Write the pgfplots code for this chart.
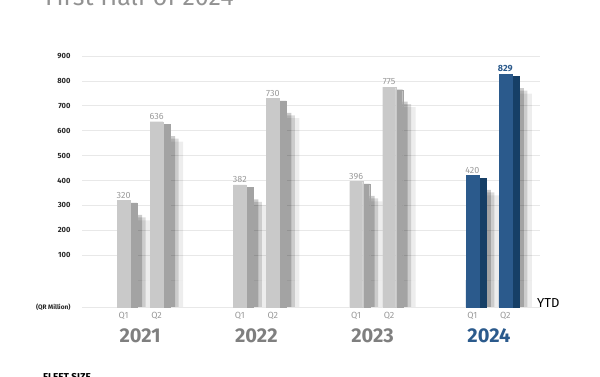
\documentclass[border=0pt]{standalone}
\usepackage{fontspec}
\setmainfont{Fira Sans}
\usepackage{pgfplots}
\pgfplotsset{compat=1.18}
\definecolor{fgray}{HTML}{C9C9C9}
\definecolor{sgray}{HTML}{A3A3A3}
\definecolor{fblue}{HTML}{2B5A8C}
\definecolor{sblue}{HTML}{163F66}
\definecolor{lgray}{HTML}{9A9A9A}
\definecolor{ygray}{HTML}{7F7F7F}
\definecolor{gridc}{HTML}{E8E8E8}
\begin{document}
\begin{tikzpicture}
\clip (0,0) rectangle (600pt,377pt);
\path[use as bounding box] (0,0) rectangle (600pt,377pt);
\node[anchor=base west, font=\fontsize{25}{25}\selectfont, text=ygray!85, inner sep=0pt] at (45pt,371pt) {First Half of 2024};
\node[anchor=north west, font=\bfseries\fontsize{10}{10}\selectfont, inner sep=0pt] at (43pt,4pt) {FLEET SIZE};
\node[anchor=west, font=\fontsize{13}{13}\selectfont, inner sep=0pt] at (537pt,74pt) {YTD};
\begin{axis}[
 at={(82pt,70pt)}, anchor=south west, scale only axis, width=458pt, height=251pt,
 xmin=-0.5, xmax=3.44, ymin=-108, ymax=900,
 clip=false,
 /pgf/number format/assume math mode=true,
 axis line style={draw=none},
 major tick length=0pt,
 ytick={100,200,...,900},
 ymajorgrids, grid style={gridc, line width=0.6pt},
 extra y ticks={-108}, extra y tick labels={(QR Million)},
 extra y tick style={yticklabel style={font=\bfseries\fontsize{6.5}{7}\selectfont}},
 yticklabel style={font=\bfseries\fontsize{7.5}{8}\selectfont, text=black!85, xshift=-8pt},
 xtick={-0.142,0.142,0.858,1.142,1.858,2.142,2.858,3.142},
 xticklabels={Q1,Q2,Q1,Q2,Q1,Q2,Q1,Q2},
 xticklabel style={font=\fontsize{9}{9}\selectfont, text=lgray, yshift=-2pt},
 extra x ticks={0,1,2,3},
 extra x tick labels={2021,2022,2023,\textcolor{fblue}{2024}},
 extra x tick style={xticklabel style={font=\bfseries\fontsize{20}{20}\selectfont, text=ygray, yshift=-16pt}},
]
% shadows (soft, layered)
\addplot[ybar, bar width=17pt, bar shift=18pt, fill=black, opacity=0.07, draw=none] coordinates {(-0.142,240) (0.142,556) (0.858,302) (1.142,650) (1.858,316) (2.142,695) (2.858,340) (3.142,749)};
\addplot[ybar, bar width=17pt, bar shift=18pt, fill=black, opacity=0.07, draw=none] coordinates {(-0.142,-108) (0.142,-108) (0.858,-108) (1.142,-108) (1.858,-108) (2.142,-108) (2.858,-108) (3.142,-108)};
\addplot[ybar, bar width=12pt, bar shift=16pt, fill=black, opacity=0.14, draw=none] coordinates {(-0.142,252) (0.142,568) (0.858,314) (1.142,662) (1.858,328) (2.142,707) (2.858,352) (3.142,761)};
\addplot[ybar, bar width=12pt, bar shift=16pt, fill=black, opacity=0.14, draw=none] coordinates {(-0.142,-108) (0.142,-108) (0.858,-108) (1.142,-108) (1.858,-108) (2.142,-108) (2.858,-108) (3.142,-108)};
\addplot[ybar, bar width=7pt, bar shift=15pt, fill=black, opacity=0.2, draw=none] coordinates {(-0.142,262) (0.142,578) (0.858,324) (1.142,672) (1.858,338) (2.142,717) (2.858,362) (3.142,771)};
\addplot[ybar, bar width=7pt, bar shift=15pt, fill=black, opacity=0.2, draw=none] coordinates {(-0.142,-108) (0.142,-108) (0.858,-108) (1.142,-108) (1.858,-108) (2.142,-108) (2.858,-108) (3.142,-108)};
% side faces
\addplot[ybar, bar width=7pt, bar shift=10pt, fill=sgray, draw=sgray, line width=0.2pt] coordinates {(-0.142,310) (0.142,626) (0.858,372) (1.142,720) (1.858,386) (2.142,765)};
\addplot[ybar, bar width=7pt, bar shift=10pt, fill=sgray, draw=sgray, line width=0.2pt] coordinates {(-0.142,-108) (0.142,-108) (0.858,-108) (1.142,-108) (1.858,-108) (2.142,-108)};
\addplot[ybar, bar width=7pt, bar shift=10pt, fill=sblue, draw=sblue, line width=0.2pt] coordinates {(2.858,410) (3.142,819)};
\addplot[ybar, bar width=7pt, bar shift=10pt, fill=sblue, draw=sblue, line width=0.2pt] coordinates {(2.858,-108) (3.142,-108)};
% front faces
\addplot[ybar, bar width=13pt, bar shift=0pt, fill=fgray, draw=fgray, line width=0.2pt,
  nodes near coords, nodes near coords style={font=\fontsize{9}{9}\selectfont, text=lgray, inner sep=2pt}]
  coordinates {(-0.142,320) (0.142,636) (0.858,382) (1.142,730) (1.858,396) (2.142,775)};
\addplot[ybar, bar width=13pt, bar shift=0pt, fill=fgray, draw=fgray, line width=0.2pt] coordinates {(-0.142,-108) (0.142,-108) (0.858,-108) (1.142,-108) (1.858,-108) (2.142,-108)};
\addplot[ybar, bar width=13pt, bar shift=0pt, fill=fblue, draw=fblue, line width=0.2pt,
  nodes near coords, nodes near coords style={font=\fontsize{9}{9}\selectfont, text=lgray, inner sep=2pt}]
  coordinates {(2.858,420)};
\addplot[ybar, bar width=13pt, bar shift=0pt, fill=fblue, draw=fblue, line width=0.2pt,
  nodes near coords, nodes near coords style={font=\bfseries\fontsize{9}{9}\selectfont, text=fblue, inner sep=2pt}]
  coordinates {(3.142,829)};
\addplot[ybar, bar width=13pt, bar shift=0pt, fill=fblue, draw=fblue, line width=0.2pt] coordinates {(2.858,-108) (3.142,-108)};
\end{axis}
\end{tikzpicture}
\end{document}
